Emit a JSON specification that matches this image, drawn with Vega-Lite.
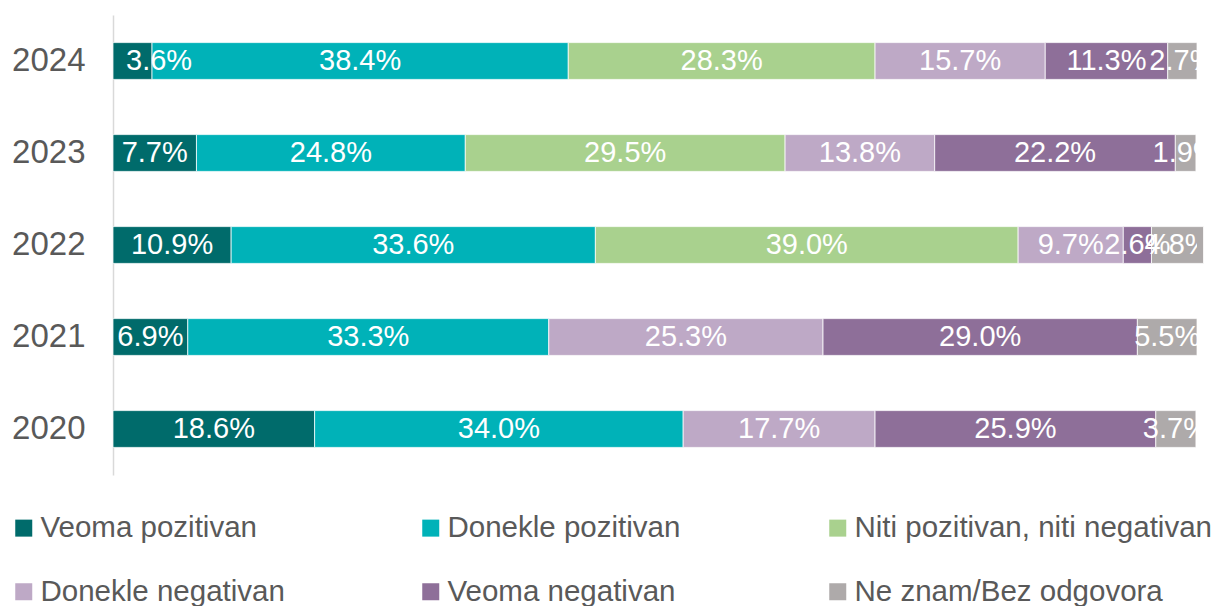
{
  "$schema": "https://vega.github.io/schema/vega-lite/v6.json",
  "width": 1084,
  "height": 460,
  "autosize": {"type": "none"},
  "padding": {"left": 113, "top": 15, "right": 30, "bottom": 131},
  "background": "white",
  "config": {"font": "Liberation Sans", "view": {"stroke": null}},
  "data": {"values": [
    {"year": "2024", "cat": "Veoma pozitivan", "o": 1, "value": 0.036},
    {"year": "2024", "cat": "Donekle pozitivan", "o": 2, "value": 0.384},
    {"year": "2024", "cat": "Niti pozitivan, niti negativan", "o": 3, "value": 0.283},
    {"year": "2024", "cat": "Donekle negativan", "o": 4, "value": 0.157},
    {"year": "2024", "cat": "Veoma negativan", "o": 5, "value": 0.113},
    {"year": "2024", "cat": "Ne znam/Bez odgovora", "o": 6, "value": 0.027},
    {"year": "2023", "cat": "Veoma pozitivan", "o": 1, "value": 0.077},
    {"year": "2023", "cat": "Donekle pozitivan", "o": 2, "value": 0.248},
    {"year": "2023", "cat": "Niti pozitivan, niti negativan", "o": 3, "value": 0.295},
    {"year": "2023", "cat": "Donekle negativan", "o": 4, "value": 0.138},
    {"year": "2023", "cat": "Veoma negativan", "o": 5, "value": 0.222},
    {"year": "2023", "cat": "Ne znam/Bez odgovora", "o": 6, "value": 0.019},
    {"year": "2022", "cat": "Veoma pozitivan", "o": 1, "value": 0.109},
    {"year": "2022", "cat": "Donekle pozitivan", "o": 2, "value": 0.336},
    {"year": "2022", "cat": "Niti pozitivan, niti negativan", "o": 3, "value": 0.390},
    {"year": "2022", "cat": "Donekle negativan", "o": 4, "value": 0.097},
    {"year": "2022", "cat": "Veoma negativan", "o": 5, "value": 0.026},
    {"year": "2022", "cat": "Ne znam/Bez odgovora", "o": 6, "value": 0.048},
    {"year": "2021", "cat": "Veoma pozitivan", "o": 1, "value": 0.069},
    {"year": "2021", "cat": "Donekle pozitivan", "o": 2, "value": 0.333},
    {"year": "2021", "cat": "Donekle negativan", "o": 4, "value": 0.253},
    {"year": "2021", "cat": "Veoma negativan", "o": 5, "value": 0.290},
    {"year": "2021", "cat": "Ne znam/Bez odgovora", "o": 6, "value": 0.055},
    {"year": "2020", "cat": "Veoma pozitivan", "o": 1, "value": 0.186},
    {"year": "2020", "cat": "Donekle pozitivan", "o": 2, "value": 0.340},
    {"year": "2020", "cat": "Donekle negativan", "o": 4, "value": 0.177},
    {"year": "2020", "cat": "Veoma negativan", "o": 5, "value": 0.259},
    {"year": "2020", "cat": "Ne znam/Bez odgovora", "o": 6, "value": 0.037}
  ]},
  "encoding": {
    "y": {
      "field": "year", "type": "nominal",
      "sort": ["2024", "2023", "2022", "2021", "2020"],
      "scale": {"paddingInner": 0.6, "paddingOuter": 0.3},
      "axis": {
        "title": null, "ticks": false, "domain": true, "domainColor": "#d9d9d9", "domainWidth": 1.5,
        "labelFontSize": 33, "labelColor": "#595959", "labelPadding": 28
      }
    },
    "x": {
      "field": "value", "type": "quantitative", "stack": "zero",
      "scale": {"domain": [0, 1], "nice": false},
      "axis": null
    },
    "order": {"field": "o", "type": "quantitative"}
  },
  "layer": [
    {
      "mark": {"type": "bar", "stroke": "white", "strokeWidth": 0.75},
      "encoding": {
        "color": {
          "field": "cat", "type": "nominal",
          "scale": {
            "domain": ["Veoma pozitivan", "Donekle pozitivan", "Niti pozitivan, niti negativan", "Donekle negativan", "Veoma negativan", "Ne znam/Bez odgovora"],
            "range": ["#006b6b", "#00b2b8", "#a9d18e", "#bea9c6", "#8e6f99", "#aeaaaa"]
          },
          "legend": {
            "title": null, "orient": "none", "legendX": -104, "legendY": 498, "padding": 0,
            "direction": "horizontal", "columns": 3, "gridAlign": "all",
            "columnPadding": 18, "rowPadding": 33,
            "symbolType": "square", "symbolSize": 289, "symbolStrokeWidth": 0,
            "labelFontSize": 29.5, "labelColor": "#595959", "labelOffset": 2, "labelLimit": 600
          }
        }
      }
    },
    {
      "mark": {"type": "text", "color": "white", "fontSize": 29, "align": "center", "baseline": "middle", "clip": true},
      "encoding": {
        "x": {"field": "value", "type": "quantitative", "stack": "zero", "bandPosition": 0.5},
        "text": {"field": "value", "type": "quantitative", "format": ".1%"},
        "opacity": {"condition": {"test": "datum.year == '2024' && datum.o == 1", "value": 0}, "value": 1}
      }
    },
    {
      "transform": [{"filter": "datum.year == '2024' && datum.o == 1"}],
      "mark": {"type": "text", "color": "white", "fontSize": 29, "align": "left", "baseline": "middle", "dx": 13},
      "encoding": {
        "x": {"value": 0},
        "text": {"field": "value", "type": "quantitative", "format": ".1%"}
      }
    }
  ]
}
